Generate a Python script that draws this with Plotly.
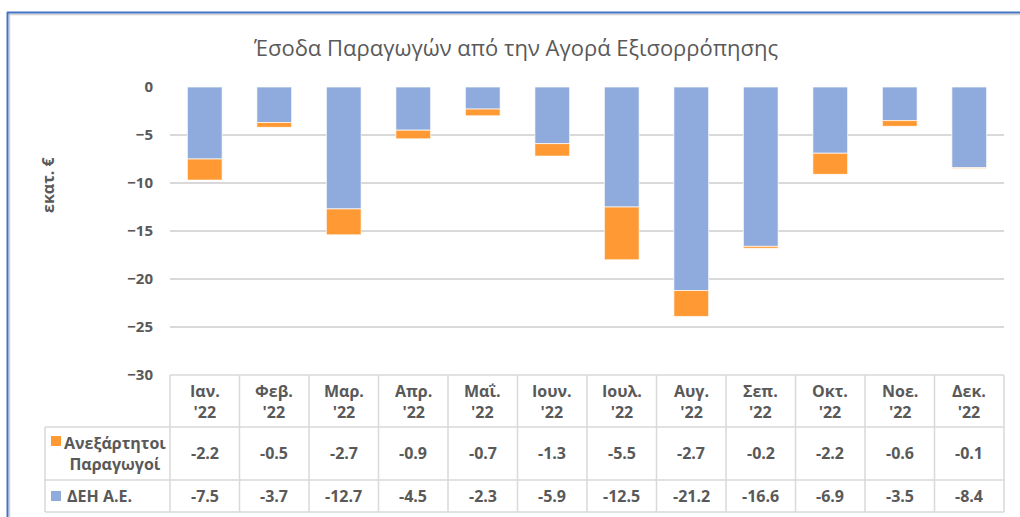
import plotly.graph_objects as go

months = ["Ιαν.", "Φεβ.", "Μαρ.", "Απρ.", "Μαΐ.", "Ιουν.", "Ιουλ.", "Αυγ.", "Σεπ.", "Οκτ.", "Νοε.", "Δεκ."]
year_label = "'22"
categories = [f"{m}<br>{year_label}" for m in months]
independent = [-2.2, -0.5, -2.7, -0.9, -0.7, -1.3, -5.5, -2.7, -0.2, -2.2, -0.6, -0.1]
dei = [-7.5, -3.7, -12.7, -4.5, -2.3, -5.9, -12.5, -21.2, -16.6, -6.9, -3.5, -8.4]
series_names = ["Ανεξάρτητοι<br>Παραγωγοί", "ΔΕΗ Α.Ε."]
title_text = "Έσοδα Παραγωγών από την Αγορά Εξισορρόπησης"
y_title = "εκατ. €"

W, H = 1020, 517
L, R_EDGE, T, B_EDGE = 170, 1004, 87, 375
FONT = "Open Sans"
GRAY = "#595959"
GRID = "#D9D9D9"
ORANGE = "#FF9933"
BLUE = "#8FAADC"

def px_x(p):
    return (p - L) / (R_EDGE - L)

def px_y(p):
    return (B_EDGE - p) / (B_EDGE - T)

fig = go.Figure()
fig.add_trace(go.Bar(x=categories, y=dei, name="ΔΕΗ Α.Ε.", marker=dict(color=BLUE, line=dict(color="rgba(255,255,255,0.7)", width=1)), width=0.5))
fig.add_trace(go.Bar(x=categories, y=independent, name="Ανεξάρτητοι Παραγωγοί", marker=dict(color=ORANGE, line=dict(color="rgba(255,255,255,0.7)", width=1)), width=0.5))

n = len(categories)
shapes = []
annotations = []

def note(x, y, text, font, **kw):
    d = dict(x=x, y=y, xref="paper", yref="paper", text=text, showarrow=False, font=font,
             xanchor="center", yanchor="middle")
    d.update(kw)
    annotations.append(d)

# table lines
row_y = [375, 427, 480, 512]
line_style = dict(color=GRID, width=1.5)
for i in range(n + 1):
    shapes.append(dict(type="line", xref="paper", yref="paper", x0=i / n, x1=i / n, y0=px_y(375), y1=px_y(512), line=line_style))
shapes.append(dict(type="line", xref="paper", yref="paper", x0=px_x(45), x1=px_x(45), y0=px_y(427), y1=px_y(512), line=line_style))
shapes.append(dict(type="line", xref="paper", yref="paper", x0=0, x1=1, y0=px_y(375), y1=px_y(375), line=line_style))
for yy in row_y[1:]:
    shapes.append(dict(type="line", xref="paper", yref="paper", x0=px_x(45), x1=1, y0=px_y(yy), y1=px_y(yy), line=line_style))

cell_font = dict(family=FONT, size=16, color=GRAY, weight="bold")
for i in range(n):
    cx = (i + 0.5) / n
    note(cx, px_y(401), f"{months[i]}<br>{year_label}", cell_font, align="center")
    note(cx, px_y(453), f"{independent[i]:.1f}", cell_font)
    note(cx, px_y(496), f"{dei[i]:.1f}", cell_font)

# legend keys in the table
shapes.append(dict(type="rect", xref="paper", yref="paper", x0=px_x(51), x1=px_x(61), y0=px_y(446), y1=px_y(436), fillcolor=ORANGE, line=dict(width=0)))
shapes.append(dict(type="rect", xref="paper", yref="paper", x0=px_x(51), x1=px_x(61), y0=px_y(501), y1=px_y(491), fillcolor=BLUE, line=dict(width=0)))
note(px_x(115), px_y(453), series_names[0], cell_font, align="center")
note(px_x(65), px_y(496), series_names[1], cell_font, xanchor="left")

# axis title
note(px_x(48), px_y(185), y_title, dict(family=FONT, size=16, color=GRAY, weight="bold"), textangle=-90)

# title
note(px_x(516), px_y(47), title_text, dict(family=FONT, size=22, color=GRAY))

# outer frame
shapes.append(dict(type="line", xref="paper", yref="paper", x0=px_x(7), x1=px_x(1025), y0=px_y(14.5), y1=px_y(14.5), line=dict(color="#D0D0D0", width=1.5)))
shapes.append(dict(type="line", xref="paper", yref="paper", x0=px_x(9.5), x1=px_x(9.5), y0=px_y(12), y1=px_y(525), line=dict(color="#D0D0D0", width=1.5)))
shapes.append(dict(type="line", xref="paper", yref="paper", x0=px_x(7), x1=px_x(1025), y0=px_y(12.5), y1=px_y(12.5), line=dict(color="#4472C4", width=2)))
shapes.append(dict(type="line", xref="paper", yref="paper", x0=px_x(7.5), x1=px_x(7.5), y0=px_y(12), y1=px_y(525), line=dict(color="#4472C4", width=2)))

fig.update_layout(
    width=W, height=H,
    margin=dict(l=L, r=W - R_EDGE, t=T, b=H - B_EDGE, pad=0),
    barmode="relative",
    bargap=0.5,
    showlegend=False,
    plot_bgcolor="white",
    paper_bgcolor="white",
    shapes=shapes,
    annotations=annotations,
    xaxis=dict(showticklabels=False, showgrid=False, zeroline=False, showline=False, ticks="", range=[-0.5, n - 0.5]),
    yaxis=dict(range=[-30, 0], dtick=5, tick0=0, showgrid=True, gridcolor=GRID, gridwidth=1.5, zeroline=False, showline=False,
               ticks="", ticklabelstandoff=16, tickfont=dict(family=FONT, size=15, color=GRAY, weight="bold")),
)

fig.write_html("out.html", config={"displayModeBar": False},
               post_script="document.body.style.margin='0';document.body.style.overflow='hidden';")
